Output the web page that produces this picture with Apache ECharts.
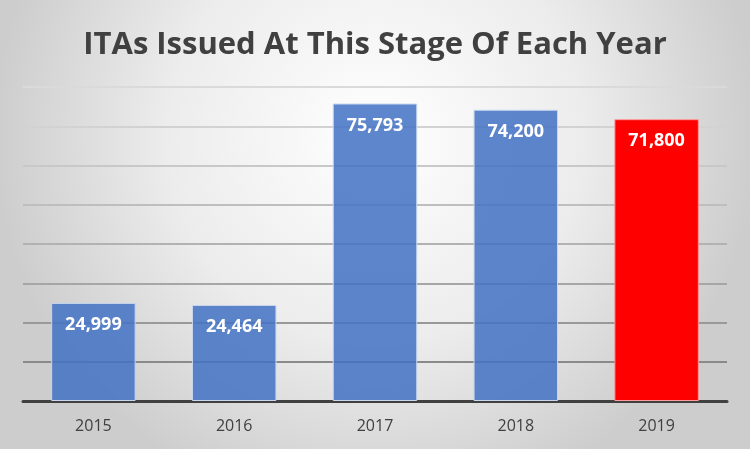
<!DOCTYPE html>
<html><head><meta charset="utf-8">
<script src="https://cdn.jsdelivr.net/npm/echarts@6/dist/echarts.min.js"></script>
<style>html,body{margin:0;padding:0;}#c{width:750px;height:449px;}</style>
</head><body><div id="c"></div>
<script>
var categories = ['2015', '2016', '2017', '2018', '2019'];
var values = [24999, 24464, 75793, 74200, 71800];
var highlightYear = '2019';
var titleText = 'ITAs Issued At This Stage Of Each Year';

var chart = echarts.init(document.getElementById('c'), null, {renderer: 'canvas'});
var data = values.map(function (v, i) {
  var hi = categories[i] === highlightYear;
  return {
    value: v,
    itemStyle: hi ? {color: '#ff0000', borderColor: '#ff9a9a', borderWidth: 1, opacity: 1}
                  : {color: 'rgba(68,114,196,0.86)', borderColor: '#c9d6ee', borderWidth: 1}
  };
});
chart.setOption({
  animation: false,
  backgroundColor: {
    type: 'radial', x: 0.5, y: 0.3, r: 0.85,
    colorStops: [{offset: 0, color: '#ffffff'}, {offset: 0.55, color: '#ececec'}, {offset: 1, color: '#cdcdcd'}]
  },
  title: {
    text: titleText, left: 'center', top: 25,
    textStyle: {fontFamily: 'Open Sans', fontWeight: 'bold', fontSize: 31, color: '#404040'}
  },
  grid: {left: 23, right: 23, top: 87, bottom: 48},
  xAxis: {
    type: 'category', data: categories,
    axisLine: {lineStyle: {color: '#404040', width: 3}},
    axisTick: {show: false},
    axisLabel: {fontFamily: 'Open Sans', fontSize: 16, color: '#404040', margin: 17}
  },
  yAxis: {
    type: 'value', min: 0, max: 80000, interval: 10000,
    axisLabel: {show: false}, axisLine: {show: false}, axisTick: {show: false},
    splitLine: {lineStyle: {width: 2, color: ['#888888', '#8a8a8a', '#999999', '#a6a6a6', '#b2b2b2', '#bebebe', '#c8c8c8', '#d2d2d2', '#dadada']}}
  },
  series: [{
    type: 'bar', data: data, barWidth: '60%', z: 3,
    label: {
      show: true, position: 'insideTop', distance: 13,
      formatter: function (p) { return p.value.toLocaleString('en-US'); },
      fontFamily: 'Open Sans', fontWeight: 'bold', fontSize: 18, color: '#ffffff'
    }
  }]
});
</script></body></html>
